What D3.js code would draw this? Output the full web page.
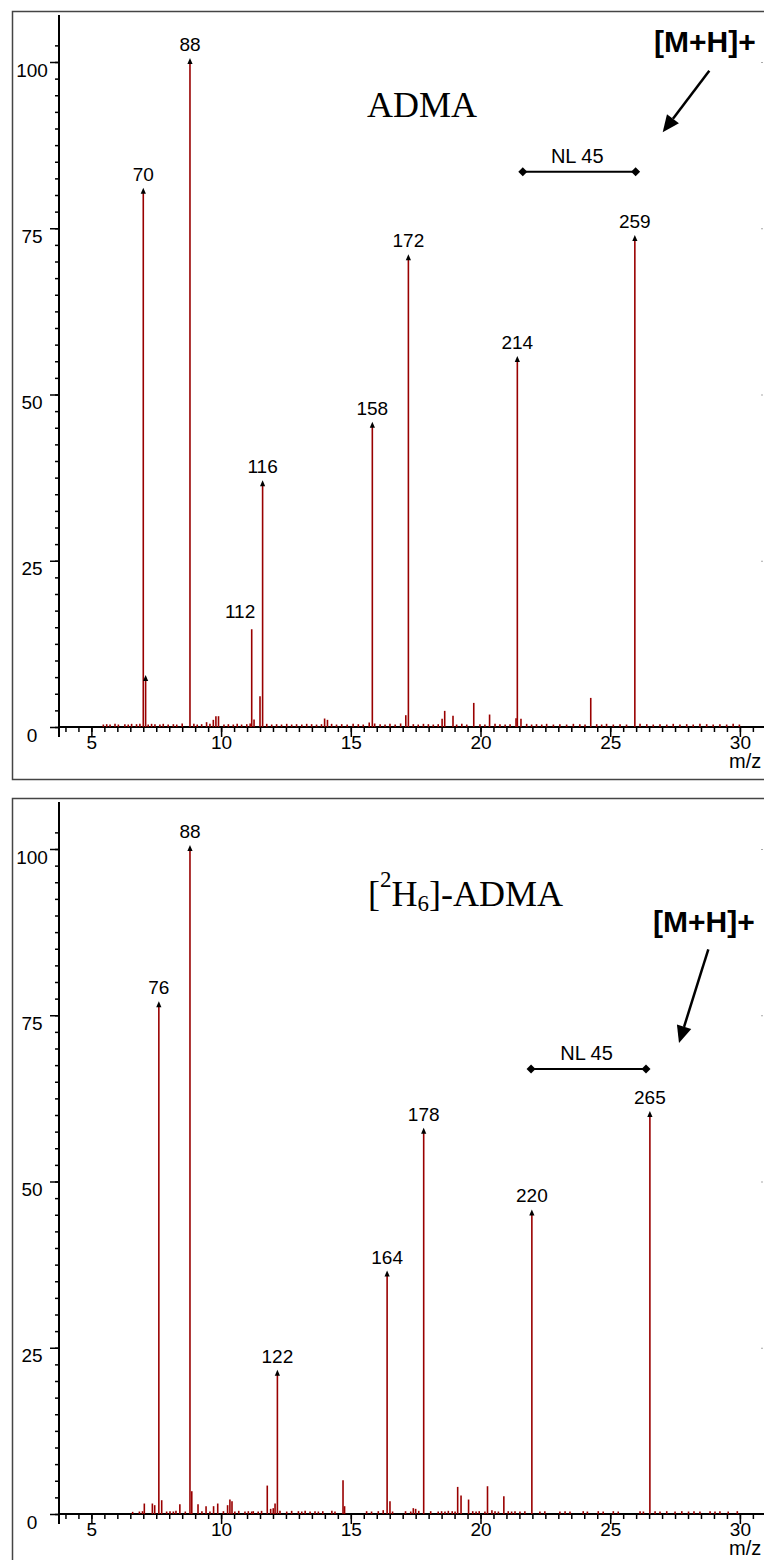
<!DOCTYPE html>
<html>
<head>
<meta charset="utf-8">
<script src="https://cdn.jsdelivr.net/npm/d3@7"></script>
<style>
  body { margin: 0; background: #fff; }
</style>
</head>
<body>
<script>
// axis tick labels
const xTickValues = [5, 10, 15, 20, 25, 30];
const yTickValues = [0, 25, 50, 75, 100];

// ADMA spectrum: labelled / marked peaks (x in axis units, y in rel. abundance %)
const admaPeakX = [7.0, 7.09, 8.8, 11.18, 11.6, 15.83, 17.22, 21.42, 25.95];
const admaPeakY = [80.5, 7.2, 100, 14.7, 36.5, 45.3, 70.5, 55.2, 73.4];
const admaPeakLabel = ["70", "", "88", "112", "116", "158", "172", "214", "259"];
const admaPeakMarked = [true, true, true, false, true, true, true, true, true];

// ADMA small peaks [x, y]
const admaMinor = [
  [6.87, 0.4], [8.50, 0.45], [9.44, 0.65], [9.70, 1.0], [9.80, 1.55], [9.90, 1.55],
  [11.12, 0.45], [11.27, 1.05], [11.50, 4.55], [13.99, 1.2], [14.10, 1.0],
  [15.71, 0.6], [15.92, 0.45], [16.92, 0.45], [17.12, 1.7], [18.52, 1.15],
  [18.62, 2.35], [18.94, 1.6], [19.74, 3.55], [20.35, 1.8], [21.37, 1.25],
  [21.56, 1.15], [24.25, 4.3]
];

// ADMA baseline noise [x, y]
const admaNoise = [
  [5.46, 0.3], [5.59, 0.35], [5.72, 0.3], [5.91, 0.4], [6.04, 0.3], [6.29, 0.35], [6.42, 0.3], [6.55, 0.4], [6.74, 0.35], [7.19, 0.3],
  [7.32, 0.4], [7.45, 0.35], [7.64, 0.3], [7.77, 0.4], [7.96, 0.3], [8.16, 0.35], [8.29, 0.3], [8.95, 0.4], [9.08, 0.3], [9.25, 0.35],
  [9.57, 0.4], [10.11, 0.3], [10.28, 0.35], [10.47, 0.3], [10.62, 0.4], [10.79, 0.3], [10.99, 0.35], [11.76, 0.4], [11.95, 0.3], [12.14, 0.35],
  [12.33, 0.3], [12.53, 0.4], [12.72, 0.3], [12.91, 0.35], [13.11, 0.3], [13.30, 0.4], [13.49, 0.35], [13.68, 0.3], [13.87, 0.35], [14.26, 0.4],
  [14.45, 0.3], [14.65, 0.35], [14.86, 0.3], [15.09, 0.4], [15.29, 0.35], [15.48, 0.3], [16.13, 0.35], [16.32, 0.3], [16.51, 0.4], [16.71, 0.3],
  [17.41, 0.35], [17.60, 0.3], [17.80, 0.4], [17.99, 0.35], [18.18, 0.3], [18.37, 0.35], [19.08, 0.3], [19.28, 0.4], [19.47, 0.3], [19.98, 0.35],
  [20.17, 0.3], [20.56, 0.4], [20.75, 0.35], [20.95, 0.3], [21.14, 0.35], [21.78, 0.4], [21.97, 0.3], [22.16, 0.35], [22.36, 0.3], [22.55, 0.4],
  [22.81, 0.3], [23.06, 0.35], [23.32, 0.3], [23.58, 0.4], [23.83, 0.35], [24.03, 0.3], [24.48, 0.35], [24.67, 0.3], [24.86, 0.4], [25.12, 0.3],
  [25.38, 0.35], [25.63, 0.3], [26.15, 0.4], [26.41, 0.35], [26.66, 0.3], [26.92, 0.35], [27.18, 0.3], [27.43, 0.4], [27.69, 0.3], [27.95, 0.35],
  [28.20, 0.3], [28.46, 0.4], [28.72, 0.35], [28.97, 0.3], [29.23, 0.35], [29.49, 0.3], [29.74, 0.4], [29.98, 0.3]
];

// [2H6]-ADMA spectrum
const d6PeakX = [7.6, 8.8, 12.17, 16.4, 17.81, 21.98, 26.53];
const d6PeakY = [76.5, 100, 21.1, 36.0, 57.5, 45.2, 60.0];
const d6PeakLabel = ["76", "88", "122", "164", "178", "220", "265"];
const d6PeakMarked = [true, true, true, true, true, true, true];

const d6Minor = [
  [7.04, 1.5], [7.35, 1.5], [7.44, 1.25], [7.71, 2.0], [8.41, 1.4], [8.87, 3.35],
  [9.11, 1.4], [9.42, 1.1], [9.71, 1.1], [9.87, 1.5], [10.25, 1.25], [10.34, 2.1],
  [10.42, 1.85], [11.78, 4.2], [11.91, 0.7], [12.01, 0.8], [12.08, 1.5], [12.27, 0.4],
  [12.72, 0.4], [14.70, 5.0], [14.76, 1.1], [16.25, 0.5], [16.51, 1.85], [17.41, 0.8],
  [17.50, 0.7], [17.62, 0.4], [19.12, 4.0], [19.25, 2.7], [19.54, 2.1], [20.27, 4.1],
  [20.44, 0.5], [20.90, 2.6]
];

const d6Noise = [
  [6.59, 0.25], [6.85, 0.3], [6.97, 0.35], [7.90, 0.3], [8.03, 0.35], [8.16, 0.3], [8.26, 0.4], [8.62, 0.3], [9.26, 0.35], [9.57, 0.3],
  [10.09, 0.35], [10.53, 0.3], [10.68, 0.4], [10.92, 0.3], [11.05, 0.35], [11.18, 0.3], [11.24, 0.35], [11.43, 0.3], [11.56, 0.4], [12.53, 0.3],
  [12.98, 0.35], [13.11, 0.3], [13.24, 0.4], [13.43, 0.3], [13.62, 0.35], [13.75, 0.3], [13.92, 0.35], [14.27, 0.4], [14.39, 0.3], [15.61, 0.35],
  [15.80, 0.3], [16.06, 0.35], [16.61, 0.3], [17.11, 0.35], [17.31, 0.3], [18.08, 0.35], [18.37, 0.3], [18.50, 0.35], [18.63, 0.3], [18.76, 0.4],
  [18.91, 0.35], [19.02, 0.3], [19.70, 0.35], [19.83, 0.3], [19.95, 0.35], [20.17, 0.3], [20.56, 0.35], [20.69, 0.3], [21.07, 0.35], [21.20, 0.3],
  [21.33, 0.35], [21.52, 0.3], [21.71, 0.35], [22.29, 0.3], [22.48, 0.35], [23.06, 0.3], [23.26, 0.35], [23.45, 0.3], [23.96, 0.35], [24.12, 0.3],
  [24.54, 0.35], [24.73, 0.3], [25.12, 0.35], [25.31, 0.3], [26.15, 0.35], [26.28, 0.3], [26.73, 0.35], [26.92, 0.3], [27.18, 0.35], [27.50, 0.3],
  [27.76, 0.35], [28.02, 0.3], [28.23, 0.35], [28.46, 0.3], [28.85, 0.35], [29.04, 0.3], [29.23, 0.35], [29.55, 0.3], [29.90, 0.35]
];

const width = 764, height = 1560;
const red = "#990000";
const sans = "'Liberation Sans', Arial, sans-serif";
const serif = "'Liberation Serif', 'Times New Roman', serif";

const svg = d3.select("body").append("svg")
  .attr("width", width)
  .attr("height", height)
  .style("font-family", sans);

svg.append("rect").attr("width", width).attr("height", height).attr("fill", "#fff");

// scales shared by both panels (y is relative to panel top)
const x = d3.scaleLinear().domain([5, 30]).range([91.4, 739.9]);
const y = d3.scaleLinear().domain([0, 100]).range([716, 51]);
const yAxisX = 59;

function drawPanel(top, cfg) {
  const g = svg.append("g").attr("transform", `translate(0,${top})`);

  // frame (runs off the right/bottom edge like the original)
  g.append("rect")
    .attr("x", 12.5).attr("y", 0.5)
    .attr("width", 800).attr("height", 768)
    .attr("fill", "none")
    .attr("stroke", "#444")
    .attr("stroke-width", 1.5);

  // faint marks on the right edge
  g.selectAll(".rmark")
    .data([25, 50, 75, 100])
    .join("rect")
    .attr("x", 761).attr("y", d => y(d))
    .attr("width", 2).attr("height", 1)
    .attr("fill", "#aaa");

  // y axis: minor every 2.5, major every 25
  g.append("g")
    .attr("transform", `translate(${yAxisX},0)`)
    .call(d3.axisLeft(y).tickValues(d3.range(0, 103, 2.5)).tickSize(4).tickFormat(""))
    .call(a => a.select(".domain").remove())
    .call(a => a.selectAll("line").attr("stroke", "#000").attr("stroke-width", 1.5));

  g.append("g")
    .attr("transform", `translate(${yAxisX},0)`)
    .call(d3.axisLeft(y).tickValues(yTickValues).tickSize(9))
    .call(a => a.select(".domain").remove())
    .call(a => a.selectAll("line").attr("stroke", "#000").attr("stroke-width", 1.5))
    .call(a => a.selectAll("text")
      .attr("x", 32 - yAxisX)
      .attr("dy", 14)
      .attr("text-anchor", "middle")
      .attr("font-size", 19)
      .attr("font-family", sans)
      .attr("fill", "#000"));

  // x axis: minor every 0.5, major every 5
  g.append("g")
    .attr("transform", `translate(0,${y(0)})`)
    .call(d3.axisBottom(x).tickValues(d3.range(4, 31.01, 0.5)).tickSize(5).tickFormat(""))
    .call(a => a.select(".domain").remove())
    .call(a => a.selectAll("line").attr("stroke", "#000").attr("stroke-width", 1.5));

  g.append("g")
    .attr("transform", `translate(0,${y(0)})`)
    .call(d3.axisBottom(x).tickValues(xTickValues).tickSize(10))
    .call(a => a.select(".domain").remove())
    .call(a => a.selectAll("line").attr("stroke", "#000").attr("stroke-width", 1.5))
    .call(a => a.selectAll("text")
      .attr("y", 21.5)
      .attr("dy", 0)
      .attr("font-size", 19)
      .attr("font-family", sans)
      .attr("fill", "#000"));

  // axis lines
  g.append("line")
    .attr("x1", yAxisX).attr("x2", yAxisX)
    .attr("y1", 4).attr("y2", y(0) + 10)
    .attr("stroke", "#000").attr("stroke-width", 2);
  g.append("line")
    .attr("x1", yAxisX).attr("x2", width + 5)
    .attr("y1", y(0)).attr("y2", y(0))
    .attr("stroke", "#000").attr("stroke-width", 2);

  g.append("text")
    .attr("x", 729).attr("y", 757)
    .attr("font-size", 20)
    .text("m/z");

  // noise and small peaks
  g.selectAll(".noise")
    .data(cfg.noise.concat(cfg.minor))
    .join("line")
    .attr("x1", d => x(d[0])).attr("x2", d => x(d[0]))
    .attr("y1", y(0)).attr("y2", d => y(d[1]) - 0.5)
    .attr("stroke", red)
    .attr("stroke-width", 1.6);

  // main peaks
  const peaks = cfg.peakX.map((v, i) => ({
    x: v, y: cfg.peakY[i], label: cfg.labels[i], marked: cfg.marked[i]
  }));

  g.selectAll(".peak")
    .data(peaks)
    .join("line")
    .attr("x1", d => x(d.x)).attr("x2", d => x(d.x))
    .attr("y1", y(0)).attr("y2", d => y(d.y))
    .attr("stroke", red)
    .attr("stroke-width", 1.6);

  g.selectAll(".mark")
    .data(peaks.filter(d => d.marked))
    .join("path")
    .attr("d", d => {
      const cx = x(d.x), ty = y(d.y);
      return `M${cx},${ty - 4}L${cx + 2.6},${ty + 2}L${cx - 2.6},${ty + 2}Z`;
    })
    .attr("fill", "#000");

  g.selectAll(".plabel")
    .data(peaks.filter(d => d.label !== ""))
    .join("text")
    .attr("x", d => d.label === "112" ? x(d.x) + 3.5 : x(d.x))
    .attr("y", d => y(d.y) - 11)
    .attr("text-anchor", d => d.label === "112" ? "end" : "middle")
    .attr("font-size", 19)
    .text(d => d.label);

  // neutral loss bar
  const nlY = y(cfg.nl[2]);
  const nlX1 = x(cfg.nl[0]), nlX2 = x(cfg.nl[1]);
  g.append("line")
    .attr("x1", nlX1).attr("x2", nlX2)
    .attr("y1", nlY).attr("y2", nlY)
    .attr("stroke", "#000").attr("stroke-width", 2);
  g.selectAll(".diamond")
    .data([nlX1, nlX2])
    .join("path")
    .attr("d", d => `M${d - 4.5},${nlY}L${d},${nlY - 4.5}L${d + 4.5},${nlY}L${d},${nlY + 4.5}Z`)
    .attr("fill", "#000");
  g.append("text")
    .attr("x", (nlX1 + nlX2) / 2 - 2)
    .attr("y", nlY - 8.7)
    .attr("text-anchor", "middle")
    .attr("font-size", 20)
    .text("NL 45");

  // [M+H]+ arrow
  const [ax1, ay1, ax2, ay2] = cfg.arrow;
  const len = Math.hypot(ax2 - ax1, ay2 - ay1);
  const ux = (ax2 - ax1) / len, uy = (ay2 - ay1) / len;
  const hl = 17, hw = 7.5;
  const bx = ax2 - ux * hl, by = ay2 - uy * hl;
  g.append("line")
    .attr("x1", ax1).attr("y1", ay1)
    .attr("x2", bx).attr("y2", by)
    .attr("stroke", "#000").attr("stroke-width", 2.5);
  g.append("path")
    .attr("d", `M${ax2},${ay2}L${bx - uy * hw},${by + ux * hw}L${bx + uy * hw},${by - ux * hw}Z`)
    .attr("fill", "#000");

  g.append("text")
    .attr("x", cfg.mh[0]).attr("y", cfg.mh[1])
    .attr("font-size", 30)
    .attr("font-weight", "bold")
    .text("[M+H]+");

  return g;
}

// top panel: ADMA
const g1 = drawPanel(11, {
  peakX: admaPeakX, peakY: admaPeakY, labels: admaPeakLabel, marked: admaPeakMarked,
  minor: admaMinor, noise: admaNoise,
  nl: [21.63, 25.98, 83.5],
  arrow: [709.3, 59.7, 662.7, 121.3],
  mh: [654, 41]
});
g1.append("text")
  .attr("x", 367).attr("y", 105.7)
  .style("font-family", serif)
  .attr("font-size", 36)
  .text("ADMA");

// bottom panel: [2H6]-ADMA
const g2 = drawPanel(798, {
  peakX: d6PeakX, peakY: d6PeakY, labels: d6PeakLabel, marked: d6PeakMarked,
  minor: d6Minor, noise: d6Noise,
  nl: [21.95, 26.38, 66.9],
  arrow: [708.3, 151.3, 679, 245],
  mh: [653, 134]
});
const t2 = g2.append("text")
  .attr("x", 368).attr("y", 107.7)
  .style("font-family", serif)
  .attr("font-size", 36);
t2.append("tspan").text("[");
t2.append("tspan").attr("font-size", 23).attr("dy", -19).text("2");
t2.append("tspan").attr("dy", 19).text("H");
t2.append("tspan").attr("font-size", 23).attr("dy", 5).text("6");
t2.append("tspan").attr("dy", -5).text("]-ADMA");
</script>
</body>
</html>
